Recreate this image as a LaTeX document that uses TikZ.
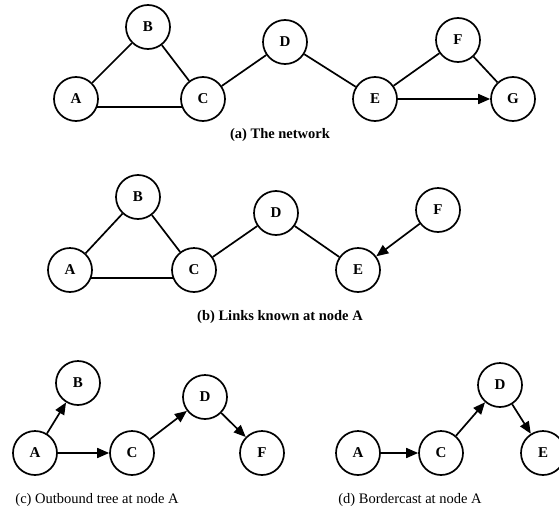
\documentclass[tikz,border=0pt]{standalone}
\usepackage{fontspec}
\setmainfont{Liberation Serif}
\usetikzlibrary{positioning,arrows.meta}
\tikzstyle{net node}=[
        draw,
        line width = 1.7pt,
        fill = white,
        minimum size = 44pt,
        inner sep = 0pt,
        circle,
        font = \fontsize{15}{15}\selectfont\bfseries
    ]
\tikzstyle{caption}=[font = \fontsize{14.5}{17}\selectfont]

\begin{document}
\begin{tikzpicture}[x=1pt, y=-1pt, on grid, line width=1.7pt, >={Triangle[length=12pt,width=10pt]}]
        \useasboundingbox (0,0) rectangle (559,522);

        % (a) the network
        \node[net node] (aA) at (76,99) {A};
        \node[net node] (aB) [above right=72pt and 72pt of aA] {B};
        \node[net node] (aC) [right=127pt of aA] {C};
        \node[net node] (aD) [above right=57pt and 82pt of aC] {D};
        \node[net node] (aE) [below right=57pt and 90pt of aD] {E};
        \node[net node] (aF) [above right=59pt and 83pt of aE] {F};
        \node[net node] (aG) [right=138pt of aE] {G};
        \node[caption, font=\fontsize{14.5}{17}\selectfont\bfseries] (capA) at (280,135) {(a) The network};

        \draw (aA) -- (aB);
        \draw (aB) -- (aC);
        \draw (aA.-20) -- (aC.200);
        \draw (aC) -- (aD);
        \draw (aD) -- (aE);
        \draw (aE) -- (aF);
        \draw (aF) -- (aG);
        \draw[->] (aE) -- (aG);

        % (b) links known at A
        \node[net node] (bA) at (70,270) {A};
        \node[net node] (bB) [above right=73pt and 68pt of bA] {B};
        \node[net node] (bC) [right=124pt of bA] {C};
        \node[net node] (bD) [above right=57pt and 82pt of bC] {D};
        \node[net node] (bE) [below right=57pt and 82pt of bD] {E};
        \node[net node] (bF) [above right=60pt and 80pt of bE] {F};
        \node[caption, font=\fontsize{14.5}{17}\selectfont\bfseries] (capB) at (280,317) {(b) Links known at node A};

        \draw (bA) -- (bB);
        \draw (bB) -- (bC);
        \draw (bA.-20) -- (bC.200);
        \draw (bC) -- (bD);
        \draw (bD) -- (bE);
        \draw[->] (bF) -- (bE);

        % (c) outbound tree
        \node[net node] (cA) at (35,453) {A};
        \node[net node] (cB) [above right=70pt and 43pt of cA] {B};
        \node[net node] (cC) [right=97pt of cA] {C};
        \node[net node] (cD) [above right=56pt and 73pt of cC] {D};
        \node[net node] (cF) [below right=56pt and 57pt of cD] {F};
        \node[caption] (capC) at (97,500) {(c) Outbound tree at node A};

        \draw[->] (cA) -- (cB);
        \draw[->] (cA) -- (cC);
        \draw[->] (cC) -- (cD);
        \draw[->] (cD) -- (cF);

        % (d) bordercast
        \node[net node] (dA) at (358,453) {A};
        \node[net node] (dC) [right=83pt of dA] {C};
        \node[net node] (dD) [above right=68pt and 59pt of dC] {D};
        \node[net node] (dE) [below right=68pt and 43pt of dD] {E};
        \node[caption] (capD) at (410,500) {(d) Bordercast at node A};

        \draw[->] (dA) -- (dC);
        \draw[->] (dC) -- (dD);
        \draw[->] (dD) -- (dE);
    \end{tikzpicture}
\end{document}
